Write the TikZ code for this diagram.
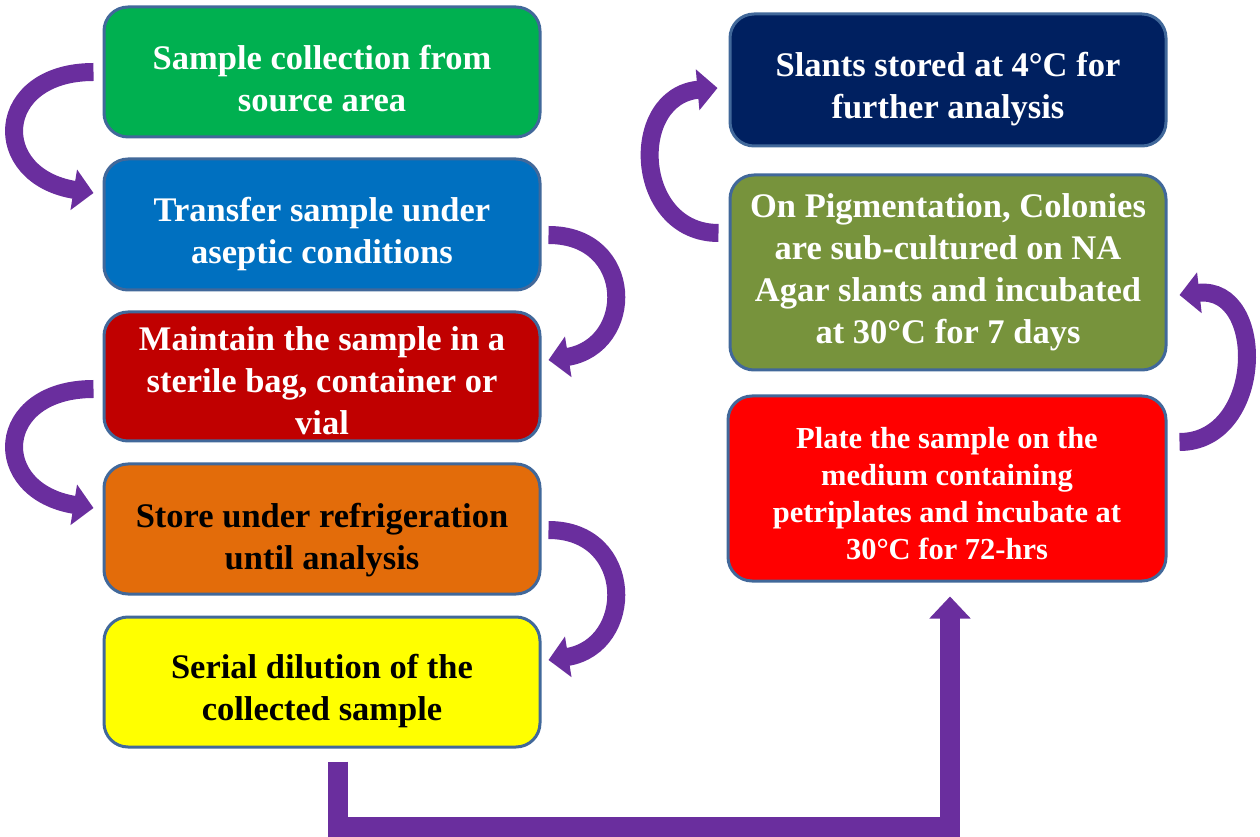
\documentclass[tikz,border=0pt]{standalone}
\usepackage{fontspec}
\setmainfont{Liberation Serif}
\usetikzlibrary{arrows.meta,calc}
\definecolor{cgreen}{HTML}{00B050}
\definecolor{cblue}{HTML}{0070C0}
\definecolor{cdred}{HTML}{C00000}
\definecolor{corange}{HTML}{E36C0A}
\definecolor{cyellow}{HTML}{FFFF00}
\definecolor{cnavy}{HTML}{002060}
\definecolor{colive}{HTML}{77933C}
\definecolor{cred}{HTML}{FF0000}
\definecolor{cborder}{HTML}{41689A}
\definecolor{cpurple}{HTML}{6A2E9E}
\newcommand{\bxtext}[2][10pt]{\raisebox{-#1}[\height][\depth]{\begin{tabular}{@{}c@{}}#2\end{tabular}}}
\begin{document}
\begin{tikzpicture}[x=1pt,y=1pt,
  box/.style={draw=cborder, line width=3pt, rounded corners=24pt, minimum width=436pt,
    align=center, inner sep=0pt, font=\fontsize{34.5}{42}\selectfont\bfseries},
  flow/.style={draw=cpurple, line width=18pt, -{Triangle[length=20pt,width=40pt]}},
  elbow/.style={draw=cpurple, line width=20pt, line join=miter, -{Triangle[length=22pt,width=40pt]}},
]
\useasboundingbox (0,0) rectangle (1260,836);
\node[box, fill=cgreen, text=white, minimum height=130pt] (green) at (322,764) {\bxtext[10.5pt]{Sample collection from\\source area}};
\node[box, fill=cblue, text=white, minimum height=131pt] (blue) at (322,611.5) {\bxtext{Transfer sample under\\aseptic conditions}};
\node[box, fill=cdred, text=white, minimum height=129pt] (dred) at (322,459.5) {\bxtext[7.5pt]{Maintain the sample in a\\sterile bag, container or\\vial}};
\node[box, fill=corange, text=black, minimum height=130pt] (orange) at (322,307) {\bxtext[11pt]{Store under refrigeration\\until analysis}};
\node[box, fill=cyellow, text=black, minimum height=130pt] (yellow) at (322,154) {\bxtext[9pt]{Serial dilution of the\\collected sample}};
\node[box, fill=cnavy, text=white, minimum height=132pt] (navy) at (948,756) {\bxtext[9pt]{Slants stored at 4°C for\\further analysis}};
\node[box, fill=colive, text=white, minimum height=195pt] (olive) at (948,563.5) {\bxtext[0pt]{On Pigmentation, Colonies\\are sub-cultured on NA\\Agar slants and incubated\\at 30°C for 7 days}};
\node[box, fill=cred, text=white, minimum height=185pt, minimum width=438pt,
  font=\fontsize{30.5}{37}\selectfont\bfseries] (red) at (947,347.5) {\bxtext[8pt]{Plate the sample on the\\medium containing\\petriplates and incubate at\\30°C for 72-hrs}};

\coordinate (t1) at ($(green.west)+(-9,0)$);
\coordinate (h1) at ($(blue.west)+(-9,31.5)$);
\draw[flow] (t1) .. controls ($(t1)+(-100,0)$) and ($(h1)+(-105,17)$) .. (h1);

\coordinate (t2) at ($(blue.east)+(7,-10.5)$);
\coordinate (h2) at ($(dred.east)+(7,16.5)$);
\draw[flow] (t2) .. controls ($(t2)+(87,0)$) and ($(h2)+(87,14)$) .. (h2);

\coordinate (t3) at ($(dred.west)+(-9,-12.5)$);
\coordinate (h3) at ($(orange.west)+(-9,21)$);
\draw[flow] (t3) .. controls ($(t3)+(-100,0)$) and ($(h3)+(-105,17)$) .. (h3);

\coordinate (t4) at ($(orange.east)+(7,-1)$);
\coordinate (h4) at ($(yellow.east)+(7,22)$);
\draw[flow] (t4) .. controls ($(t4)+(87,0)$) and ($(h4)+(87,14)$) .. (h4);

\coordinate (t5) at ($(olive.west)+(-10,39.5)$);
\coordinate (h5) at ($(navy.west)+(-11,-8)$);
\draw[flow] (t5) .. controls ($(t5)+(-85,0)$) and ($(h5)+(-90,-8)$) .. (h5);

\coordinate (t6) at ($(red.east)+(12,46.5)$);
\coordinate (h6) at ($(olive.east)+(12,-22.5)$);
\draw[flow] (t6) .. controls ($(t6)+(85,0)$) and ($(h6)+(88,10)$) .. (h6);

\coordinate (s0) at ($(yellow.south)+(16,-13)$);
\coordinate (e0) at ($(red.south)+(3,-14)$);
\draw[elbow] (s0) -- ++(0,-65) -| (e0);
\end{tikzpicture}
\end{document}
